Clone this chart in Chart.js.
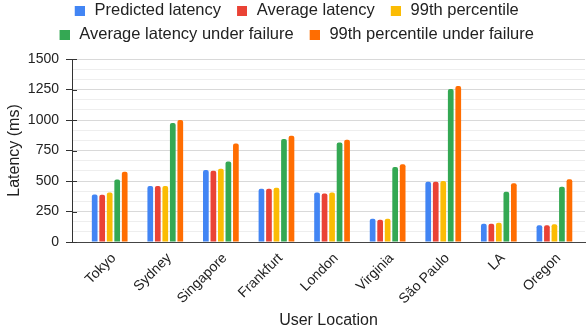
<!DOCTYPE html>
<html>
<head>
<meta charset="utf-8">
<script src="https://cdn.jsdelivr.net/npm/chart.js@4"></script>
<style>
  html, body { margin: 0; padding: 0; background: #ffffff; }
  #wrap { width: 587px; height: 335px; position: relative; }
</style>
</head>
<body>
<div id="wrap"><canvas id="chart"></canvas></div>
<script>
// Latency per user location (ms)
const categories = ['Tokyo', 'Sydney', 'Singapore', 'Frankfurt', 'London', 'Virginia', 'São Paulo', 'LA', 'Oregon'];
const seriesNames = ['Predicted latency', 'Average latency', '99th percentile', 'Average latency under failure', '99th percentile under failure'];
const predictedLatency   = [390, 458, 590, 437, 405, 190, 493, 150, 137];
const averageLatency     = [388, 458, 585, 437, 398, 183, 493, 150, 137];
const p99Latency         = [405, 458, 600, 445, 405, 190, 500, 157, 145];
const averageFailure     = [512, 975, 660, 845, 815, 615, 1255, 412, 452];
const p99Failure         = [575, 1000, 808, 870, 838, 637, 1278, 482, 515];
const yTickValues = [0, 250, 500, 750, 1000, 1250, 1500];
const seriesColors = ['#4285F4', '#EA4335', '#FBBC04', '#34A853', '#FF6D01'];

const seriesValues = [predictedLatency, averageLatency, p99Latency, averageFailure, p99Failure];
const FONT = '"Liberation Sans", Arial, sans-serif';
const TEXT = '#222222';

// two light gridlines between each labelled tick
const gridValues = [];
yTickValues.forEach((v, i) => {
  gridValues.push(v);
  if (i < yTickValues.length - 1) {
    const step = (yTickValues[i + 1] - v) / 3;
    gridValues.push(v + step, v + 2 * step);
  }
});
const isMajor = v => yTickValues.includes(v);

// legend swatches: a 10px square sitting at the right end of a wider cell,
// which leaves extra room between one legend entry and the next
const SWATCH_CELL = 20;
const swatches = seriesColors.map(color => {
  const c = document.createElement('canvas');
  c.width = 17;
  c.height = 10;
  const g = c.getContext('2d');
  g.fillStyle = color;
  g.fillRect(7, 0, 10, 10);
  return c;
});

// short tick marks on the inner side of the value axis
const innerTicks = {
  id: 'innerTicks',
  afterDatasetsDraw(chart) {
    const y = chart.scales.y;
    const left = chart.chartArea.left;
    const ctx = chart.ctx;
    ctx.save();
    ctx.strokeStyle = '#333333';
    ctx.lineWidth = 1;
    yTickValues.forEach(v => {
      const py = Math.round(y.getPixelForValue(v)) + 0.5;
      ctx.beginPath();
      ctx.moveTo(left, py);
      ctx.lineTo(left + 5, py);
      ctx.stroke();
    });
    ctx.restore();
  }
};

// pull the legend rows up toward the top edge
const legendLift = {
  id: 'legendLift',
  afterLayout(chart) {
    if (chart.legend) {
      chart.legend.top -= 6;
      chart.legend.bottom -= 6;
    }
  }
};

new Chart(document.getElementById('chart'), {
  type: 'bar',
  data: {
    datasets: seriesNames.map((name, s) => ({
      label: name,
      data: seriesValues[s].map((v, i) => ({ x: i, y: v })),
      backgroundColor: seriesColors[s],
      borderWidth: 0,
      borderRadius: { topLeft: 2, topRight: 2, bottomLeft: 0, bottomRight: 0 },
      borderSkipped: 'start',
      categoryPercentage: 0.675,
      barPercentage: 0.76
    }))
  },
  options: {
    responsive: true,
    maintainAspectRatio: false,
    animation: false,
    devicePixelRatio: 1,
    layout: { padding: { top: 1, left: 0, right: 2, bottom: 0 } },
    plugins: {
      legend: {
        position: 'top',
        labels: {
          usePointStyle: true,
          pointStyleWidth: SWATCH_CELL,
          boxHeight: 10,
          padding: 7.5,
          color: TEXT,
          font: { family: FONT, size: 16.5 },
          generateLabels: chart =>
            Chart.defaults.plugins.legend.labels.generateLabels(chart)
              .map((item, i) => Object.assign(item, { pointStyle: swatches[i] }))
        }
      },
      tooltip: { enabled: false }
    },
    scales: {
      x: {
        type: 'linear',
        offset: false,
        min: -0.678,
        max: 8.55,
        afterBuildTicks: s => { s.ticks = categories.map((_, i) => ({ value: i })); },
        afterFit: s => { s.height = 93; },
        grid: { display: false, drawTicks: false, offset: false },
        border: { display: true, color: '#444444', width: 1 },
        ticks: {
          autoSkip: false,
          minRotation: 45,
          maxRotation: 45,
          padding: 8,
          labelOffset: 4,
          color: TEXT,
          font: { family: FONT, size: 14 },
          callback: v => categories[v]
        },
        title: {
          display: true,
          text: 'User Location',
          color: TEXT,
          font: { family: FONT, size: 16 },
          padding: { top: 0, bottom: 5 }
        }
      },
      y: {
        min: 0,
        max: 1500,
        afterBuildTicks: s => { s.ticks = gridValues.map(v => ({ value: v })); },
        afterFit: s => { s.width = 72; },
        grid: {
          color: ctx => isMajor(ctx.tick.value) ? '#d9d9d9' : '#eeeeee',
          tickColor: ctx => isMajor(ctx.tick.value) ? '#333333' : 'rgba(0,0,0,0)',
          tickLength: 6
        },
        border: { display: true, color: '#333333', width: 1 },
        ticks: {
          autoSkip: false,
          padding: 7,
          color: TEXT,
          font: { family: FONT, size: 14 },
          callback: v => isMajor(v) ? String(v) : ''
        },
        title: {
          display: true,
          text: 'Latency (ms)',
          color: TEXT,
          font: { family: FONT, size: 16 },
          padding: { top: 5, bottom: 0 }
        }
      }
    }
  },
  plugins: [innerTicks, legendLift]
});
</script>
</body>
</html>
